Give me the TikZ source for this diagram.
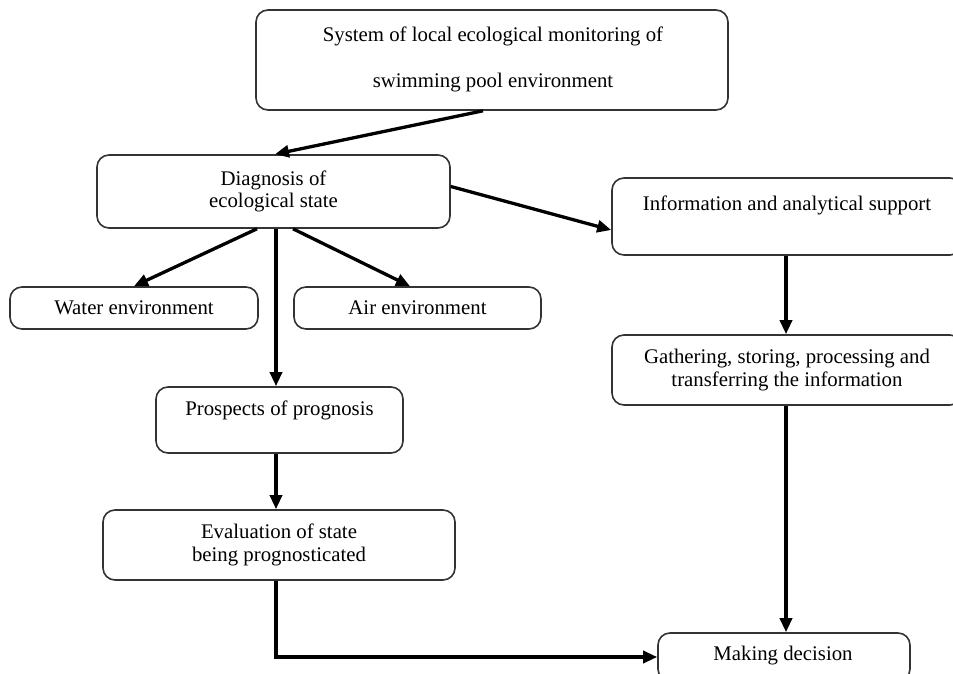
\documentclass[tikz,border=0pt]{standalone}
\usepackage{fontspec}
\setmainfont{Liberation Serif}
\usetikzlibrary{arrows.meta}
\begin{document}
\begin{tikzpicture}[x=1pt,y=-1pt,
  every node/.style={font=\fontsize{20.8}{22.5}\selectfont, align=center, inner sep=0pt},
  block/.style={draw=black!80, line width=1.6pt, rounded corners=12pt, fill=white},
  flow/.style={line width=3.3pt, -{Triangle[length=14pt,width=12pt]}}]
  \useasboundingbox (0,0) rectangle (953,674);
  \clip (0,0) rectangle (953,674);

  % boxes
  \node[block, minimum width=472pt, minimum height=100pt] (top) at (492,60) {};
  \node[font=\fontsize{20.8}{46}\selectfont] (toptext) at (493,59)
    {System of local ecological monitoring of\\swimming pool environment};

  \node[block, minimum width=353pt, minimum height=73pt] (diag) at (273.5,191.5)
    {Diagnosis of\\ecological state};

  \node[block, minimum width=350pt, minimum height=77pt] (info) at (787,216.5) {};
  \node (infotext) at (787,205) {Information and analytical support};

  \node[block, minimum width=248pt, minimum height=42pt] (water) at (134,308) {Water environment};
  \node[block, minimum width=247pt, minimum height=42pt] (air) at (417.5,308) {Air environment};

  \node[block, minimum width=247pt, minimum height=66pt] (prosp) at (279.5,420) {};
  \node (prosptext) at (279.5,410) {Prospects of prognosis};

  \node[block, minimum width=350pt, minimum height=70pt] (gather) at (787,370)
    {Gathering, storing, processing and\\transferring the information};

  \node[block, minimum width=352pt, minimum height=70pt] (eval) at (279,545)
    {Evaluation of state\\being prognosticated};

  \node[block, minimum width=252pt, minimum height=48pt] (decision) at (784,657) {};
  \node (decisiontext) at (783,656) {Making decision};

  % connectors
  \draw[flow] ([xshift=-9pt]top.south) -- ([xshift=1.5pt]diag.north);
  \draw[flow] ([yshift=5pt]diag.east) -- ([yshift=-13.5pt]info.west);
  \draw[flow] ([xshift=-16.5pt]diag.south) -- (water.north);
  \draw[flow] ([xshift=2.5pt]diag.south) -- ([xshift=-3.5pt]prosp.north);
  \draw[flow] ([xshift=19.5pt]diag.south) -- ([xshift=-7.5pt]air.north);
  \draw[flow] ([xshift=-1pt]info.south) -- ([xshift=-1pt]gather.north);
  \draw[flow] ([xshift=-3.5pt]prosp.south) -- ([xshift=-3pt]eval.north);
  \draw[flow] ([xshift=-1pt]gather.south) -- ([xshift=2pt]decision.north);
  \draw[flow] ([xshift=-3pt]eval.south) |- (decision.west);
\end{tikzpicture}
\end{document}
